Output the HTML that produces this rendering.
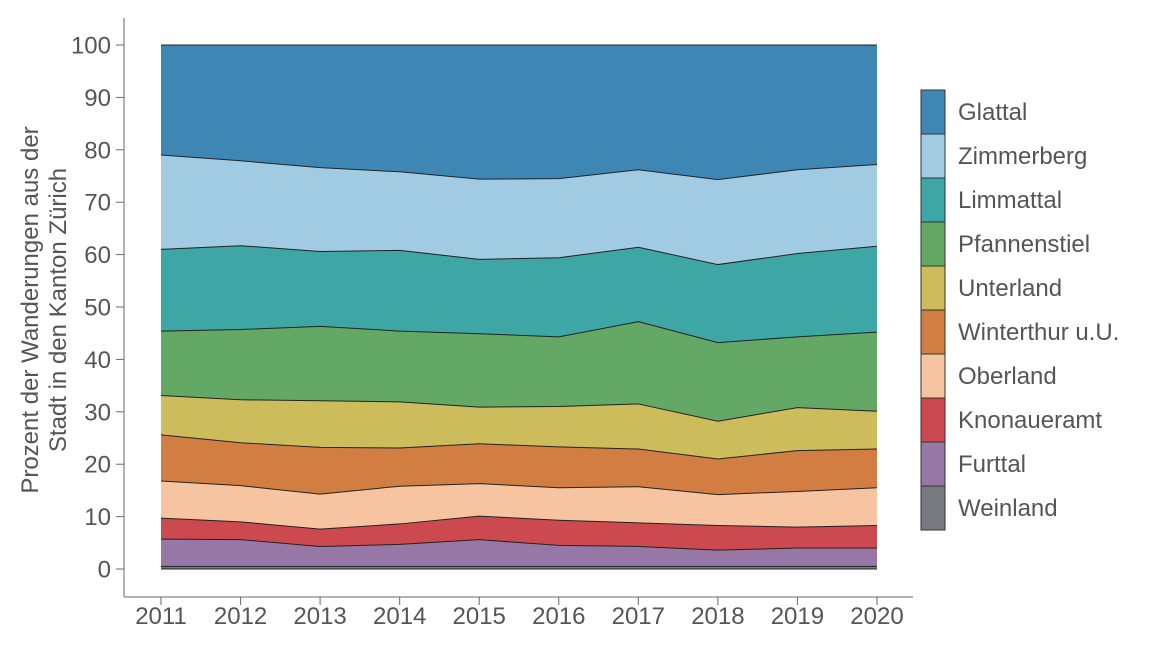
<!DOCTYPE html>
<html><head><meta charset="utf-8"><style>
body{margin:0;background:#fff;}
svg text{font-family:"Liberation Sans",sans-serif;fill:#555;}
</style></head><body>
<svg id="s" width="1152" height="648" xmlns="http://www.w3.org/2000/svg">
<g id="areas"></g>
<line x1="124" y1="18" x2="124" y2="597" stroke="#666" stroke-width="1"/>
<line x1="124" y1="597" x2="913" y2="597" stroke="#666" stroke-width="1"/>
<g stroke="#666">
<line x1="116" y1="569" x2="124" y2="569"/><line x1="116" y1="516.6" x2="124" y2="516.6"/><line x1="116" y1="464.2" x2="124" y2="464.2"/><line x1="116" y1="411.8" x2="124" y2="411.8"/><line x1="116" y1="359.4" x2="124" y2="359.4"/><line x1="116" y1="307" x2="124" y2="307"/><line x1="116" y1="254.6" x2="124" y2="254.6"/><line x1="116" y1="202.2" x2="124" y2="202.2"/><line x1="116" y1="149.8" x2="124" y2="149.8"/><line x1="116" y1="97.4" x2="124" y2="97.4"/><line x1="116" y1="45" x2="124" y2="45"/>
<line x1="161" y1="597" x2="161" y2="605"/><line x1="240.6" y1="597" x2="240.6" y2="605"/><line x1="320.1" y1="597" x2="320.1" y2="605"/><line x1="399.7" y1="597" x2="399.7" y2="605"/><line x1="479.2" y1="597" x2="479.2" y2="605"/><line x1="558.8" y1="597" x2="558.8" y2="605"/><line x1="638.3" y1="597" x2="638.3" y2="605"/><line x1="717.9" y1="597" x2="717.9" y2="605"/><line x1="797.4" y1="597" x2="797.4" y2="605"/><line x1="877" y1="597" x2="877" y2="605"/>
</g>
<g font-size="24" text-anchor="end">
<text x="111" y="577.5">0</text><text x="111" y="525.1">10</text><text x="111" y="472.7">20</text><text x="111" y="420.3">30</text><text x="111" y="367.9">40</text><text x="111" y="315.5">50</text><text x="111" y="263.1">60</text><text x="111" y="210.7">70</text><text x="111" y="158.3">80</text><text x="111" y="105.9">90</text><text x="111" y="53.5">100</text>
</g>
<g font-size="24" text-anchor="middle">
<text x="161" y="624">2011</text><text x="240.6" y="624">2012</text><text x="320.1" y="624">2013</text><text x="399.7" y="624">2014</text><text x="479.2" y="624">2015</text><text x="558.8" y="624">2016</text><text x="638.3" y="624">2017</text><text x="717.9" y="624">2018</text><text x="797.4" y="624">2019</text><text x="877" y="624">2020</text>
</g>
<g font-size="24" text-anchor="middle" transform="translate(40,310) rotate(-90)">
<text x="0" y="-2">Prozent der Wanderungen aus der</text>
<text x="0" y="26">Stadt in den Kanton Zürich</text>
</g>
<g stroke="#333" stroke-width="1">
<rect x="921" y="90" width="24" height="44" fill="#3e87b4"/>
<rect x="921" y="134" width="24" height="44" fill="#a1cbe3"/>
<rect x="921" y="178" width="24" height="44" fill="#3ea6a5"/>
<rect x="921" y="222" width="24" height="44" fill="#64a865"/>
<rect x="921" y="266" width="24" height="44" fill="#cdbc5c"/>
<rect x="921" y="310" width="24" height="44" fill="#d27e42"/>
<rect x="921" y="354" width="24" height="44" fill="#f6c4a0"/>
<rect x="921" y="398" width="24" height="44" fill="#cc4a4f"/>
<rect x="921" y="442" width="24" height="44" fill="#9677a6"/>
<rect x="921" y="486" width="24" height="44" fill="#777b80"/>
</g>
<g font-size="24">
<text x="958" y="120">Glattal</text><text x="958" y="164">Zimmerberg</text><text x="958" y="208">Limmattal</text><text x="958" y="252">Pfannenstiel</text><text x="958" y="296">Unterland</text><text x="958" y="340">Winterthur u.U.</text><text x="958" y="384">Oberland</text><text x="958" y="428">Knonaueramt</text><text x="958" y="472">Furttal</text><text x="958" y="516">Weinland</text>
</g>
</svg>
<script>
var tops=[
[0.5,0.5,0.5,0.5,0.5,0.5,0.5,0.5,0.5,0.5],
[5.7,5.6,4.3,4.7,5.6,4.5,4.3,3.6,4.0,4.0],
[9.7,9.0,7.6,8.6,10.1,9.3,8.8,8.3,8.0,8.3],
[16.8,15.9,14.3,15.8,16.3,15.5,15.7,14.2,14.8,15.5],
[25.6,24.1,23.2,23.1,23.9,23.3,22.9,21.0,22.6,22.9],
[33.1,32.3,32.1,31.9,30.9,31.0,31.5,28.2,30.8,30.1],
[45.4,45.7,46.3,45.4,44.9,44.3,47.2,43.2,44.3,45.2],
[61.0,61.7,60.6,60.8,59.1,59.4,61.4,58.1,60.2,61.6],
[79.0,77.9,76.6,75.8,74.4,74.5,76.2,74.3,76.2,77.2],
[100,100,100,100,100,100,100,100,100,100]];
var cols=["#777b80","#9677a6","#cc4a4f","#f6c4a0","#d27e42","#cdbc5c","#64a865","#3ea6a5","#a1cbe3","#3e87b4"];
function X(i){return 161+i*79.556;}function Y(v){return 569-v*5.24;}
var g=document.getElementById("areas"),h="";
for(var k=0;k<10;k++){
 var p="M"+X(0)+","+Y(tops[k][0]);
 for(var i=1;i<10;i++)p+=" L"+X(i)+","+Y(tops[k][i]);
 for(var i=9;i>=0;i--)p+=" L"+X(i)+","+Y(k?tops[k-1][i]:0);
 p+="Z";
 h+='<path d="'+p+'" fill="'+cols[k]+'" stroke="none"/>';
}
for(var k=0;k<10;k++){
 var p="M"+X(0)+","+Y(tops[k][0]);
 for(var i=1;i<10;i++)p+=" L"+X(i)+","+Y(tops[k][i]);
 h+='<path d="'+p+'" fill="none" stroke="#222" stroke-width="1"/>';
}
h+='<path d="M'+X(0)+','+Y(0)+' L'+X(9)+','+Y(0)+'" stroke="#222" stroke-width="1"/>';
g.innerHTML=h;
</script>
</body></html>
